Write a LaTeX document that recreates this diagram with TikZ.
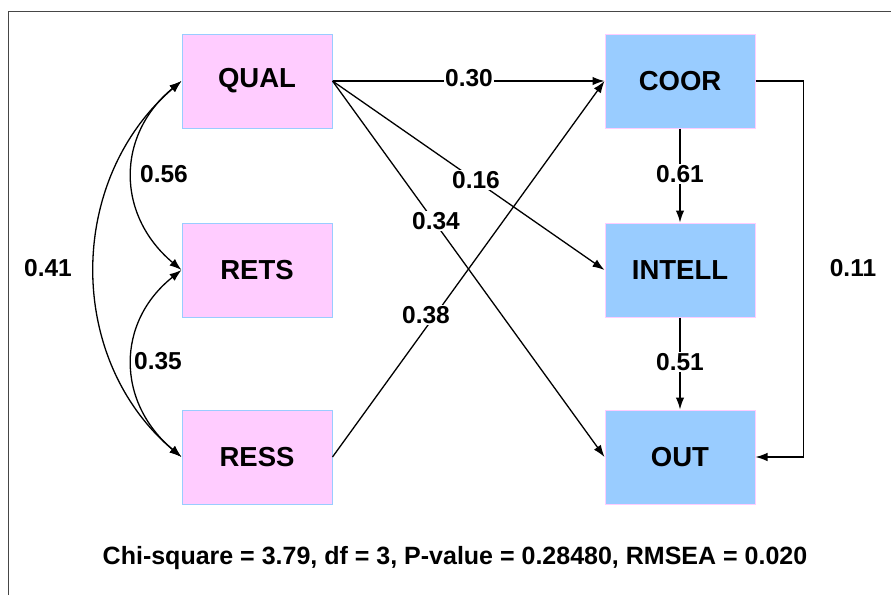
\documentclass[tikz,border=0pt]{standalone}
\usepackage{fontspec}
\setmainfont{Liberation Sans}
\usetikzlibrary{arrows.meta}
\definecolor{pinkfill}{RGB}{255,204,255}
\definecolor{bluefill}{RGB}{153,204,255}
\definecolor{framegray}{RGB}{70,70,70}
\tikzset{
  pinkbox/.style={draw=bluefill, fill=pinkfill, line width=1pt, minimum width=150pt, minimum height=94pt, inner sep=0pt, font=\fontsize{27.5}{27.5}\selectfont\bfseries},
  bluebox/.style={draw=pinkfill, fill=bluefill, line width=1pt, minimum width=150pt, minimum height=94pt, inner sep=0pt, font=\fontsize{27.5}{27.5}\selectfont\bfseries},
  arr/.style={line width=1.3pt, -{Latex[length=12pt,width=8.5pt]}},
  biarr/.style={line width=1.3pt, {Latex[length=12pt,width=8.5pt]}-{Latex[length=12pt,width=8.5pt]}},
  coef/.style={fill=white, inner sep=1.5pt, font=\fontsize{24.5}{24.5}\selectfont\bfseries},
  coefplain/.style={inner sep=1.5pt, font=\fontsize{24.5}{24.5}\selectfont\bfseries}
}
\begin{document}
\begin{tikzpicture}[x=1pt, y=-1pt]
\useasboundingbox (0,0) rectangle (891,595);
\fill[white] (0,0) rectangle (891,595);
\draw[framegray, line width=1pt] (8,595) -- (8,11) -- (891,11);

\node[pinkbox] (qual) at (257,81) {QUAL};
\node[pinkbox] (rets) at (257,270) {RETS};
\node[pinkbox] (ress) at (257,457) {RESS};
\node[bluebox] (coor) at (680,81) {COOR};
\node[bluebox] (intell) at (680,270) {INTELL};
\node[bluebox] (out) at (680,457) {OUT};

% correlations
\draw[biarr] (qual.west) .. controls (116,135) and (116,215) .. (rets.west);
\draw[biarr] (rets.west) .. controls (116,322) and (116,402) .. (ress.west);
\draw[biarr] (qual.west) .. controls (66,180) and (66,360) .. (ress.west);
\node[coefplain] (l056) at (164,174) {0.56};
\node[coefplain] (l035) at (158,361) {0.35};
\node[coefplain] (l041) at (48,268) {0.41};

% paths
\draw[arr] (qual.east) -- (coor.west);
\draw[arr] (qual.east) -- (intell.west);
\draw[arr] (qual.east) -- (out.west);
\draw[arr] (ress.east) -- (coor.west);
\draw[arr] (coor.south) -- (intell.north);
\draw[arr] (intell.south) -- (out.north);
\draw[arr] (coor.east) -- ++(48,0) |- (out.east);

\node[coef] (l030) at (469,78) {0.30};
\node[coef] (l016) at (476,180) {0.16};
\node[coef] (l034) at (436,221) {0.34};
\node[coef] (l038) at (426,315) {0.38};
\node[coef] (l061) at (680,174) {0.61};
\node[coef] (l051) at (680,362) {0.51};
\node[coefplain] (l011) at (853,268) {0.11};

\node[coefplain, font=\fontsize{25}{25}\selectfont\bfseries] (fit) at (455,558) {Chi-square = 3.79, df = 3, P-value = 0.28480, RMSEA = 0.020};
\end{tikzpicture}
\end{document}
